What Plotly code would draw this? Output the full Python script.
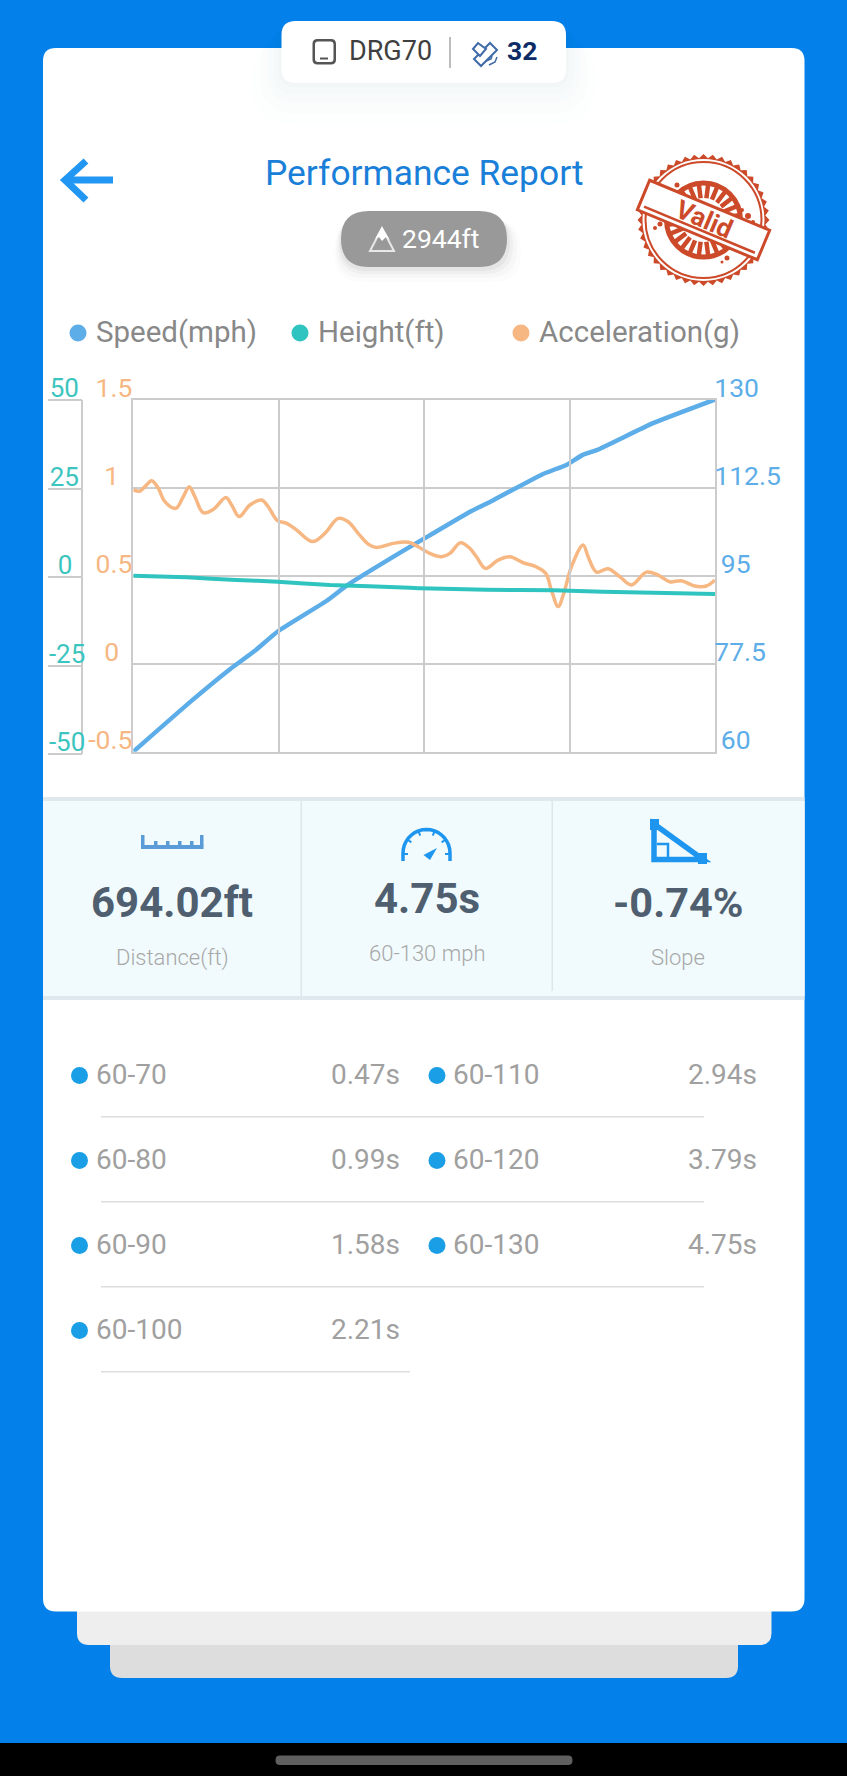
import math
import plotly.graph_objects as go

# chart data, time in seconds
speed_t = [0, 0.47, 0.789, 0.99, 1.179, 1.58, 1.742, 2.21, 2.42, 2.75, 2.94, 3.346, 3.537, 3.67, 3.79, 4.244, 4.75]
speed_mph = [60, 70, 76.4, 80, 83.9, 90, 93, 100, 103, 107.7, 110, 115.2, 117, 119, 120, 125.3, 130]

height_t = [0, 0.435, 0.844, 1.179, 1.605, 2.258, 2.34, 2.884, 3.428, 3.836, 4.244, 4.75]
height_ft = [0.38, -0.09, -0.85, -1.32, -2.26, -3.01, -3.2, -3.58, -3.77, -4.14, -4.43, -4.8]

accel_t = [0, 0.054, 0.095, 0.150, 0.204, 0.258, 0.346, 0.408, 0.457, 0.503, 0.571, 0.653, 0.756, 0.803, 0.865,
           0.952, 1.047, 1.102, 1.178, 1.252, 1.333, 1.464, 1.564, 1.673, 1.755, 1.836, 1.918, 1.986, 2.122, 2.245,
           2.326, 2.421, 2.517, 2.585, 2.672, 2.748, 2.802, 2.876, 2.979, 3.074, 3.183, 3.278, 3.368, 3.414, 3.469,
           3.515, 3.578, 3.673, 3.714, 3.782, 3.877, 3.972, 4.067, 4.190, 4.285, 4.380, 4.475, 4.584, 4.679, 4.75]
accel_g = [0.986, 0.980, 1.005, 1.039, 0.996, 0.920, 0.882, 0.948, 1.005, 0.948, 0.857, 0.876, 0.944, 0.901, 0.835,
           0.901, 0.929, 0.891, 0.812, 0.797, 0.759, 0.693, 0.740, 0.825, 0.806, 0.740, 0.679, 0.660, 0.683, 0.689,
           0.664, 0.626, 0.607, 0.626, 0.687, 0.655, 0.607, 0.541, 0.588, 0.607, 0.573, 0.554, 0.513, 0.418, 0.324,
           0.399, 0.551, 0.674, 0.607, 0.520, 0.539, 0.494, 0.447, 0.520, 0.503, 0.465, 0.471, 0.441, 0.441, 0.475]

# tick labels, nbsp pads keep the centred look of the original labels
x_grid = [0, 1.1875, 2.375, 3.5625, 4.75]
speed_ticks = [60, 77.5, 95, 112.5, 130]
speed_labels = ["\u00a060", "77.5", "\u00a095", "112.5", "130"]
accel_ticks = [-0.5, 0, 0.5, 1, 1.5]
accel_labels = ["-0.5", "0\u00a0\u00a0", "0.5", "1\u00a0\u00a0", "1.5"]
height_ticks = [-50, -25, 0, 25, 50]
height_labels = ["-50", "-25", "0\u00a0\u00a0", "25\u00a0", "50\u00a0"]

# split time table
split_left = ["60-70", "60-80", "60-90", "60-100"]
split_left_s = ["0.47s", "0.99s", "1.58s", "2.21s"]
split_right = ["60-110", "60-120", "60-130"]
split_right_s = ["2.94s", "3.79s", "4.75s"]

W, H = 847, 1776
BLUE = "#0380EA"
SPEED = "#5DADE8"
TEAL = "#30C4C0"
PEACH = "#F7B782"
GRID = "#CCCCCC"
RED = "#CC4A2A"
ICON = "#1E96F0"


def px(x):
    return x / W


def py(y):
    return 1 - y / H


def pt(x, y):
    return f"{px(x):.5f},{py(y):.5f}"


shapes = []
notes = []


def rect(x0, y0, x1, y1, color):
    shapes.append(dict(type="rect", xref="paper", yref="paper", x0=px(x0), x1=px(x1), y0=py(y0), y1=py(y1),
                       fillcolor=color, line_width=0, layer="below"))


def rrect(x0, y0, x1, y1, r, color):
    d = (f"M{pt(x0 + r, y0)} L{pt(x1 - r, y0)} Q{pt(x1, y0)} {pt(x1, y0 + r)} L{pt(x1, y1 - r)} "
         f"Q{pt(x1, y1)} {pt(x1 - r, y1)} L{pt(x0 + r, y1)} Q{pt(x0, y1)} {pt(x0, y1 - r)} "
         f"L{pt(x0, y0 + r)} Q{pt(x0, y0)} {pt(x0 + r, y0)} Z")
    shapes.append(dict(type="path", xref="paper", yref="paper", path=d, fillcolor=color, line_width=0, layer="below"))


def path(points, fill=None, stroke=None, width=2, close=True):
    d = "M" + " L".join(pt(x, y) for x, y in points) + (" Z" if close else "")
    s = dict(type="path", xref="paper", yref="paper", path=d, layer="below")
    s["fillcolor"] = fill if fill else "rgba(0,0,0,0)"
    s["line"] = dict(color=stroke, width=width) if stroke else dict(width=0)
    shapes.append(s)


def circle(cx, cy, r, fill=None, stroke=None, width=2):
    s = dict(type="circle", xref="paper", yref="paper", x0=px(cx - r), x1=px(cx + r), y0=py(cy - r), y1=py(cy + r),
             layer="below")
    s["fillcolor"] = fill if fill else "rgba(0,0,0,0)"
    s["line"] = dict(color=stroke, width=width) if stroke else dict(width=0)
    shapes.append(s)


def text(x, y, s, size, color, anchor="center", weight=400, angle=0):
    notes.append(dict(x=px(x), y=py(y), xref="paper", yref="paper", text=s, showarrow=False, xanchor=anchor,
                      yanchor="middle", borderpad=0, textangle=angle,
                      font=dict(family="Roboto", size=size, color=color, weight=weight)))


# page background and stacked cards
rect(0, 1743, W, H, "#000000")
rrect(110, 1600, 738, 1678, 12, "#DDDDDD")
rrect(77, 1580, 771.5, 1645, 12, "#EEEEEE")
rrect(43, 48, 804.5, 1611.5, 13, "#FFFFFF")
rrect(275.5, 1755.5, 572.5, 1765, 4.5, "#5F5F5F")

# top pill
for grow, alpha in [(30, 0.006), (22, 0.008), (14, 0.010), (8, 0.012), (3, 0.015)]:
    rrect(281.5 - grow, 21 + grow / 2, 566 + grow, 83 + grow * 1.4, 14 + grow, f"rgba(40,70,120,{alpha})")
rrect(281.5, 21, 566, 83, 14, "#FFFFFF")
rrect(312.5, 39, 336, 64.5, 5, "#555555")
rrect(315, 41.5, 333.5, 62, 3, "#FFFFFF")
rect(320, 57.5, 328, 59.5, "#555555")
text(390.5, 50.5, "DRG70", 27, "#3F3F3F")
rect(449, 37, 451, 68, "#BDBDBD")
path([(490, 43), (497, 50), (481, 66), (474, 59)], fill="#FFFFFF", stroke="#3E6AA8", width=2)
path([(473, 49), (478, 43), (486, 49), (480, 56)], fill="#FFFFFF", stroke="#3E6AA8", width=2)
path([(497, 57), (495, 62), (489, 65)], stroke="#3E6AA8", width=1.5, close=False)
path([(492, 56), (491, 59), (486, 61)], stroke="#3E6AA8", width=1.5, close=False)
text(522, 50.5, "32", 26.5, "#0D2C66", weight=700)

# header
path([(86, 161), (65, 180), (86, 200)], stroke="#2196F3", width=7, close=False)
path([(65, 180), (113, 180)], stroke="#2196F3", width=7, close=False)
text(424, 173, "Performance Report", 35.4, "#1A7FD8")
for grow, alpha in [(14, 0.012), (10, 0.018), (6, 0.03), (3, 0.04)]:
    rrect(341 - grow / 2, 214 + grow / 2, 507 + grow, 268 + grow, 28, f"rgba(0,0,0,{alpha})")
rrect(341, 211, 507, 267, 28, "#999999")
path([(382, 228), (394, 251), (370, 251)], stroke="#E8E8E8", width=2)
path([(382, 227), (375, 239), (379, 237), (382, 241), (386, 237), (390, 240)], fill="#FFFFFF")
text(440.5, 238, "2944ft", 26.5, "#FFFFFF")

# stamp
cx, cy = 703.5, 220
teeth = []
for i in range(88):
    a = 2 * math.pi * i / 88
    r = 66 if i % 2 == 0 else 62
    teeth.append((cx + r * math.cos(a), cy + r * math.sin(a)))
path(teeth, fill=RED)
circle(cx, cy, 61, fill="#FFFFFF")
circle(cx, cy, 58, stroke=RED, width=2)
circle(cx, cy, 37, stroke=RED, width=5)
for i in range(24):
    a = 2 * math.pi * (i + 0.5) / 24
    path([(cx + 22 * math.cos(a), cy + 22 * math.sin(a)), (cx + 36 * math.cos(a), cy + 36 * math.sin(a))],
         stroke=RED, width=4.5, close=False)
# ink splatter around the ring
for sx, sy, sr in [(677, 185, 2.5), (684, 188, 1.5), (748, 216, 3), (742, 210, 2), (753, 222, 2), (660, 224, 2.5),
                   (655, 228, 2), (668, 231, 2), (727, 258, 2.5), (722, 262, 1.5)]:
    circle(sx, sy, sr, fill=RED)
ang = math.radians(22.6)
ux, uy = math.cos(ang), math.sin(ang)
vx, vy = -uy, ux
band = [(cx + a * ux + b * vx, cy + a * uy + b * vy) for a, b in [(-65, -16), (65, -16), (65, 16), (-65, 16)]]
path(band, fill="#FFFFFF", stroke=RED, width=3)
path([(cx - 60 * ux + 10.5 * vx, cy - 60 * uy + 10.5 * vy), (cx + 60 * ux + 10.5 * vx, cy + 60 * uy + 10.5 * vy)],
     stroke=RED, width=2.5, close=False)
text(704, 219, "Valid", 26, RED, weight=700, angle=23)

# legend row
for x_dot, x_txt, label, color in [(78, 95, "Speed(mph)", SPEED), (300, 317, "Height(ft)", TEAL),
                                   (521, 538, "Acceleration(g)", PEACH)]:
    circle(x_dot, 333, 8.5, fill=color)
    text(x_txt, 332, label, 29.5, "#888888", anchor="left")

# stats panel
rect(43, 797, 804.5, 1000, "#DFE8EC")
rect(43, 801, 804.5, 996, "#F1FBFD")
rect(300.5, 801, 302, 996, "#DDE6EA")
rect(551.5, 801, 553, 991, "#DDE6EA")

rect(141, 845, 203.5, 849, "#5A9BD8")
for x_tick, top in [(141, 835), (154, 841), (166, 841), (178, 841), (190, 841), (200, 835)]:
    rect(x_tick, top, x_tick + 3.5, 846, "#5A9BD8")

arc = [(426.5 + 23.5 * math.cos(math.radians(a)), 853 + 23.5 * math.sin(math.radians(a))) for a in range(180, 361, 10)]
path([(403, 861)] + arc + [(450, 861)], stroke=ICON, width=3.5, close=False)
path([(437, 848), (430, 860), (423.5, 855)], fill=ICON)
for a in (215, 250, 290, 325):
    ca, sa = math.cos(math.radians(a)), math.sin(math.radians(a))
    path([(426.5 + 23 * ca, 853 + 23 * sa), (426.5 + 18.5 * ca, 853 + 18.5 * sa)], stroke=ICON, width=2, close=False)
rect(403, 853, 408, 855, ICON)
rect(445, 853, 450, 855, ICON)

path([(654, 824), (703, 859.5), (654, 859.5)], stroke=ICON, width=5.5)
rect(650, 819, 659, 830, ICON)
rect(698, 853, 707, 864, ICON)
path([(657, 844), (668, 844), (668, 858)], stroke=ICON, width=2.5, close=False)

text(172, 902, "694.02ft", 42, "#4F5F70", weight=700)
text(426.5, 898, "4.75s", 42, "#4F5F70", weight=700)
text(678, 902, "-0.74%", 41.5, "#4F5F70", weight=700)
text(172, 957.5, "Distance(ft)", 22, "#A8A8A8", weight=300)
text(426.5, 953, "60-130 mph", 22, "#A8A8A8", weight=300)
text(678, 957.5, "Slope", 22, "#A8A8A8", weight=300)

# split table
row_y = [1074.5, 1159.5, 1244.5, 1329.5]
for y, name, val in zip(row_y, split_left, split_left_s):
    circle(79.5, y + 1, 8.5, fill="#1A9FE6")
    text(95, y, name, 28, "#A0A0A0", anchor="left")
    text(401, y, val, 28, "#A0A0A0", anchor="right")
for y, name, val in zip(row_y, split_right, split_right_s):
    circle(437, y + 1, 8.5, fill="#1A9FE6")
    text(452, y, name, 28, "#A0A0A0", anchor="left")
    text(758, y, val, 28, "#A0A0A0", anchor="right")
for y in row_y[:3]:
    rect(101, y + 41.5, 704, y + 43, "#DDDDDD")
rect(101, row_y[3] + 41.5, 410, row_y[3] + 43, "#DDDDDD")

fig = go.Figure()
fig.add_trace(go.Scatter(x=height_t, y=height_ft, yaxis="y3", mode="lines", name="Height(ft)",
                         line=dict(color=TEAL, width=4, shape="spline", smoothing=0.5)))
fig.add_trace(go.Scatter(x=accel_t, y=accel_g, yaxis="y2", mode="lines", name="Acceleration(g)",
                         line=dict(color=PEACH, width=3.5, shape="spline", smoothing=1.0)))
fig.add_trace(go.Scatter(x=speed_t, y=speed_mph, yaxis="y", mode="lines", name="Speed(mph)",
                         line=dict(color=SPEED, width=4.5, shape="spline", smoothing=0.4)))

fig.update_layout(
    autosize=False, width=W, height=H,
    margin=dict(l=0, r=0, t=0, b=0, pad=0),
    paper_bgcolor=BLUE, plot_bgcolor="rgba(0,0,0,0)",
    showlegend=False, shapes=shapes, annotations=notes,
    xaxis=dict(automargin=False, domain=[px(133.3), px(715)], range=[0, 4.75], tickvals=x_grid, showticklabels=False,
               ticks="", showgrid=True, gridcolor=GRID, gridwidth=1.5, zeroline=False, showline=True, linecolor=GRID,
               linewidth=2, mirror=True),
    yaxis=dict(automargin=False, domain=[py(751.7), py(399.5)], range=[60, 130], side="right", tickvals=speed_ticks,
               ticktext=speed_labels, tickfont=dict(family="Roboto", size=26.5, color=SPEED), ticklabelshift=-12,
               ticks="", ticklabelstandoff=-8, showgrid=True, gridcolor=GRID, gridwidth=1.5, zeroline=False,
               showline=True, linecolor=GRID, linewidth=2, mirror=True),
    yaxis2=dict(automargin=False, overlaying="y", side="left", range=[-0.5, 1.5], tickvals=accel_ticks,
                ticktext=accel_labels, tickfont=dict(family="Roboto", size=26.5, color=PEACH), ticklabelshift=-12,
                ticks="", ticklabelstandoff=0, showgrid=False, zeroline=False, showline=False),
    yaxis3=dict(automargin=False, domain=[py(754), py(400)], range=[-50, 50], anchor="free", position=px(82.3),
                side="left", tickvals=height_ticks, ticktext=height_labels,
                tickfont=dict(family="Roboto", size=26, color="#3CC4BF"), ticklabelshift=-12, ticks="outside",
                ticklen=34, tickcolor=GRID, tickwidth=1.5, ticklabelstandoff=-43, showgrid=False, zeroline=False,
                showline=True, linecolor=GRID, linewidth=1.5),
)

fig.write_html("out.html", config={"displayModeBar": False},
               post_script="document.body.style.margin='0';document.body.style.overflow='hidden';")
